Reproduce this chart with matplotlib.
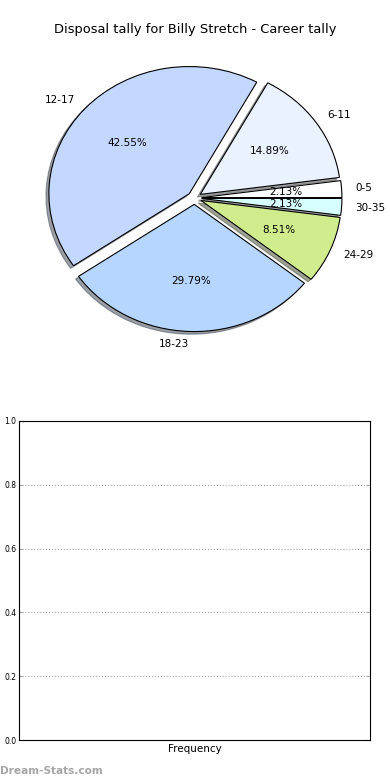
import numpy as np
import matplotlib
matplotlib.use('Agg')
import matplotlib.pyplot as plt

# disposal ranges and number of games in each
labels = ['0-5', '6-11', '12-17', '18-23', '24-29', '30-35']
counts = [1, 7, 20, 14, 4, 1]
colors = ['#ffffff', '#eaf1ff', '#c4d8ff', '#b6d6ff', '#d0ec8c', '#d8ffff']
explode = [0.05] * len(counts)

yticks = [0.0, 0.2, 0.4, 0.6, 0.8, 1.0]

fig = plt.figure(figsize=(3.9, 7.8), dpi=100)

# pie on top
ax1 = fig.add_axes([19 / 390, 1 - 357 / 780, 351 / 390, 318 / 780])
wedges, texts, autotexts = ax1.pie(counts, labels=labels, colors=colors,
                                   explode=explode, autopct='%1.2f%%',
                                   shadow={'ox': -0.015, 'oy': -0.015},
                                   startangle=0,
                                   wedgeprops={'edgecolor': 'black', 'linewidth': 0.8},
                                   textprops={'fontsize': 7.5})
ax1.set_aspect('auto')
ax1.set_xlim(-1.25, 1.25)
ax1.set_ylim(-1.25, 1.25)
fig.text(0.5, 1 - 30 / 780, 'Disposal tally for Billy Stretch - Career tally',
         ha='center', va='center', fontsize=9.4)

# empty frequency axes below
ax2 = fig.add_axes([19 / 390, 1 - 740 / 780, 351 / 390, 319 / 780])
ax2.set_xlim(0, 1)
ax2.set_ylim(0, 1)
ax2.set_yticks(yticks)
ax2.set_yticklabels(['%.1f' % t for t in yticks], fontsize=5.5)
ax2.set_xticks([0.5])
ax2.set_xticklabels(['Frequency'], fontsize=7.5)
ax2.tick_params(axis='x', length=0, pad=3)
ax2.tick_params(axis='y', direction='in', right=True, length=3, color='#aaaaaa', pad=2)
ax2.yaxis.grid(True, linestyle=':', color='#aaaaaa', linewidth=0.8)

fig.text(0.0, 1 - 771 / 780, 'Dream-Stats.com', ha='left', va='center',
         fontsize=7.6, color='#a6a6a6', fontweight='bold')

fig.savefig('out.png', dpi=100)
